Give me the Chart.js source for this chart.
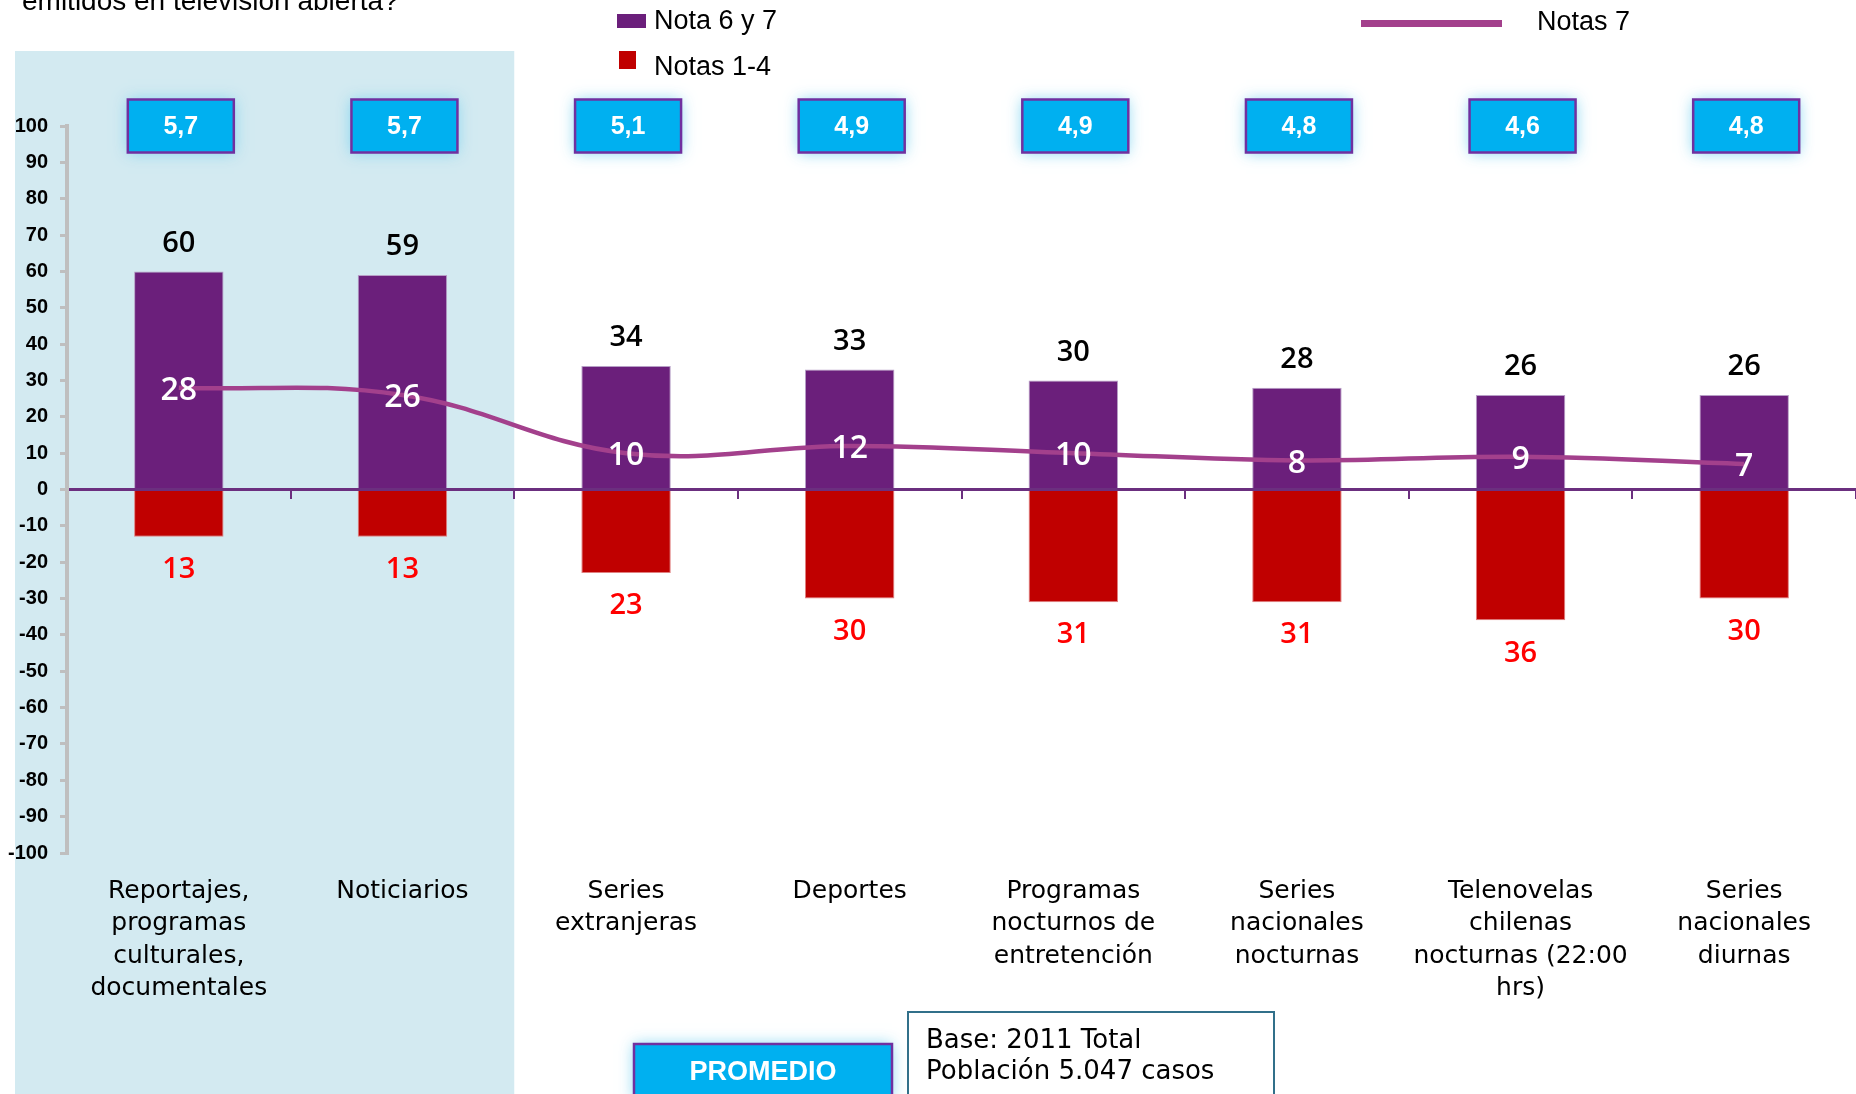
<!DOCTYPE html>
<html>
<head>
<meta charset="utf-8">
<script src="https://cdn.jsdelivr.net/npm/chart.js@4.4.0/dist/chart.umd.min.js"></script>
<style>
  html, body { margin: 0; padding: 0; background: #fff; }
  #wrap { width: 1856px; height: 1094px; position: relative; }
</style>
</head>
<body>
<div id="wrap"><canvas id="chart"></canvas></div>
<script>
// categorias (lineas del rotulo)
const categorias = [
  ['Reportajes,', 'programas', 'culturales,', 'documentales'],
  ['Noticiarios'],
  ['Series', 'extranjeras'],
  ['Deportes'],
  ['Programas', 'nocturnos de', 'entretención'],
  ['Series', 'nacionales', 'nocturnas'],
  ['Telenovelas', 'chilenas', 'nocturnas (22:00', 'hrs)'],
  ['Series', 'nacionales', 'diurnas']
];
const nota67 = [60, 59, 34, 33, 30, 28, 26, 26];
const notas14 = [13, 13, 23, 30, 31, 31, 36, 30];
const notas7 = [28, 26, 10, 12, 10, 8, 9, 7];
const promedio = ['5,7', '5,7', '5,1', '4,9', '4,9', '4,8', '4,6', '4,8'];
const yTicks = [100, 90, 80, 70, 60, 50, 40, 30, 20, 10, 0, -10, -20, -30, -40, -50, -60, -70, -80, -90, -100];

const MORADO = '#6b1f7b';
const ROJO = '#c00000';
const LINEA = '#a3408c';
const CELESTE = '#00b0f0';

function cajaPromedio(ctx, cx, cy, w, h, txt, size) {
  ctx.save();
  ctx.shadowColor = 'rgba(120,210,240,0.9)';
  ctx.shadowBlur = 14;
  ctx.fillStyle = CELESTE;
  ctx.fillRect(cx - w / 2, cy - h / 2, w, h);
  ctx.restore();
  ctx.save();
  ctx.strokeStyle = '#7030a0';
  ctx.lineWidth = 2.5;
  ctx.strokeRect(cx - w / 2, cy - h / 2, w, h);
  ctx.fillStyle = '#fff';
  ctx.font = 'bold ' + size + 'px "Liberation Sans", Arial, sans-serif';
  ctx.textAlign = 'center';
  ctx.textBaseline = 'middle';
  ctx.fillText(txt, cx, cy + 1);
  ctx.restore();
}

const fondo = {
  id: 'fondo',
  beforeDraw(chart) {
    const ctx = chart.ctx;
    const x = chart.scales.x;
    ctx.save();
    ctx.fillStyle = '#fff';
    ctx.fillRect(0, 0, chart.width, chart.height);
    ctx.fillStyle = '#d3eaf1';
    const xr = x.getPixelForValue(1.5);
    ctx.fillRect(15, 51, xr - 15, chart.height - 51);
    ctx.restore();
  }
};

const rotulos = {
  id: 'rotulos',
  afterDatasetsDraw(chart) {
    const ctx = chart.ctx;
    const x = chart.scales.x, y = chart.scales.y;
    const mP = chart.getDatasetMeta(0), mR = chart.getDatasetMeta(1), mL = chart.getDatasetMeta(2);
    ctx.save();
    ctx.textAlign = 'center';
    ctx.textBaseline = 'middle';
    // valores de las barras
    for (let i = 0; i < nota67.length; i++) {
      ctx.font = '600 29px "Open Sans", sans-serif';
      ctx.fillStyle = '#000';
      ctx.fillText(nota67[i], mP.data[i].x, mP.data[i].y - 28);
      ctx.font = '600 29px "Open Sans", sans-serif';
      ctx.fillStyle = '#ff0000';
      ctx.fillText(notas14[i], mR.data[i].x, mR.data[i].y + 33);
      ctx.font = '600 32px "Open Sans", sans-serif';
      ctx.fillStyle = '#fff';
      ctx.fillText(notas7[i], mL.data[i].x, mL.data[i].y + 3);
    }
    // categorias
    ctx.font = '25px "DejaVu Sans", sans-serif';
    ctx.fillStyle = '#000';
    categorias.forEach((lineas, i) => {
      const cx = x.getPixelForValue(i);
      lineas.forEach((t, j) => ctx.fillText(t, cx, 891 + j * 32.5));
    });
    ctx.restore();

    // cajas de promedio
    const cy = y.getPixelForValue(100);
    promedio.forEach((p, i) => cajaPromedio(ctx, x.getPixelForValue(i) + 2, cy, 106, 53, p, 25));
    cajaPromedio(ctx, 763, 1072, 258, 56, 'PROMEDIO', 27);

    ctx.save();
    // titulo (cortado arriba)
    ctx.fillStyle = '#000';
    ctx.font = '28px "Liberation Sans", Arial, sans-serif';
    ctx.textBaseline = 'alphabetic';
    ctx.fillText('emitidos en televisión abierta?', 22, 10);

    // leyenda
    ctx.font = '27px "Liberation Sans", Arial, sans-serif';
    ctx.textBaseline = 'middle';
    ctx.fillStyle = MORADO;
    ctx.fillRect(617, 14, 29, 14);
    ctx.fillStyle = ROJO;
    ctx.fillRect(619, 51, 17, 18);
    ctx.fillStyle = LINEA;
    ctx.fillRect(1361, 20, 141, 7);
    ctx.fillStyle = '#000';
    ctx.fillText('Nota 6 y 7', 654, 22);
    ctx.fillText('Notas 1-4', 654, 68);
    ctx.fillText('Notas 7', 1537, 23);

    // caja base
    ctx.fillStyle = '#fff';
    ctx.fillRect(908, 1012, 366, 100);
    ctx.strokeStyle = '#31708a';
    ctx.lineWidth = 2;
    ctx.strokeRect(908, 1012, 366, 100);
    ctx.fillStyle = '#000';
    ctx.font = '26px "DejaVu Sans", sans-serif';
    ctx.fillText('Base: 2011 Total', 926, 1041);
    ctx.fillText('Población 5.047 casos', 926, 1072);
    ctx.restore();
  }
};

new Chart(document.getElementById('chart'), {
  type: 'bar',
  data: {
    labels: categorias.map(c => c.join(' ')),
    datasets: [
      {
        label: 'Nota 6 y 7',
        data: nota67,
        backgroundColor: MORADO,
        borderColor: '#b79fc6',
        borderWidth: 1,
        barPercentage: 0.4,
        categoryPercentage: 1,
        grouped: false,
        order: 2
      },
      {
        label: 'Notas 1-4',
        data: notas14.map(v => -v),
        backgroundColor: ROJO,
        borderColor: '#e08080',
        borderWidth: 1,
        barPercentage: 0.4,
        categoryPercentage: 1,
        grouped: false,
        order: 2
      },
      {
        type: 'line',
        label: 'Notas 7',
        data: notas7,
        borderColor: LINEA,
        borderWidth: 4.5,
        tension: 0.4,
        pointRadius: 0,
        fill: false,
        order: 1
      }
    ]
  },
  options: {
    responsive: true,
    maintainAspectRatio: false,
    animation: false,
    events: [],
    layout: { padding: { left: 0, right: 0, top: 126, bottom: 241 } },
    plugins: {
      legend: { display: false },
      tooltip: { enabled: false }
    },
    scales: {
      x: {
        type: 'category',
        position: { y: 0 },
        offset: true,
        grid: {
          offset: true,
          drawOnChartArea: false,
          drawTicks: true,
          tickLength: 8,
          color: '#6b2f7f',
          lineWidth: 2
        },
        border: { color: '#6b2f7f', width: 3 },
        ticks: { display: false }
      },
      y: {
        min: -100,
        max: 100,
        afterBuildTicks(s) { s.ticks = yTicks.map(v => ({ value: v })); },
        afterFit(s) { s.width = 67; },
        grid: {
          drawOnChartArea: false,
          tickLength: 7,
          color: '#bfbfbf',
          lineWidth: 3
        },
        border: { color: '#bfbfbf', width: 4 },
        ticks: {
          padding: 12,
          color: '#000',
          font: { family: '"Liberation Sans", Arial, sans-serif', size: 20, weight: 'bold' }
        }
      }
    }
  },
  plugins: [fondo, rotulos]
});
</script>
</body>
</html>
